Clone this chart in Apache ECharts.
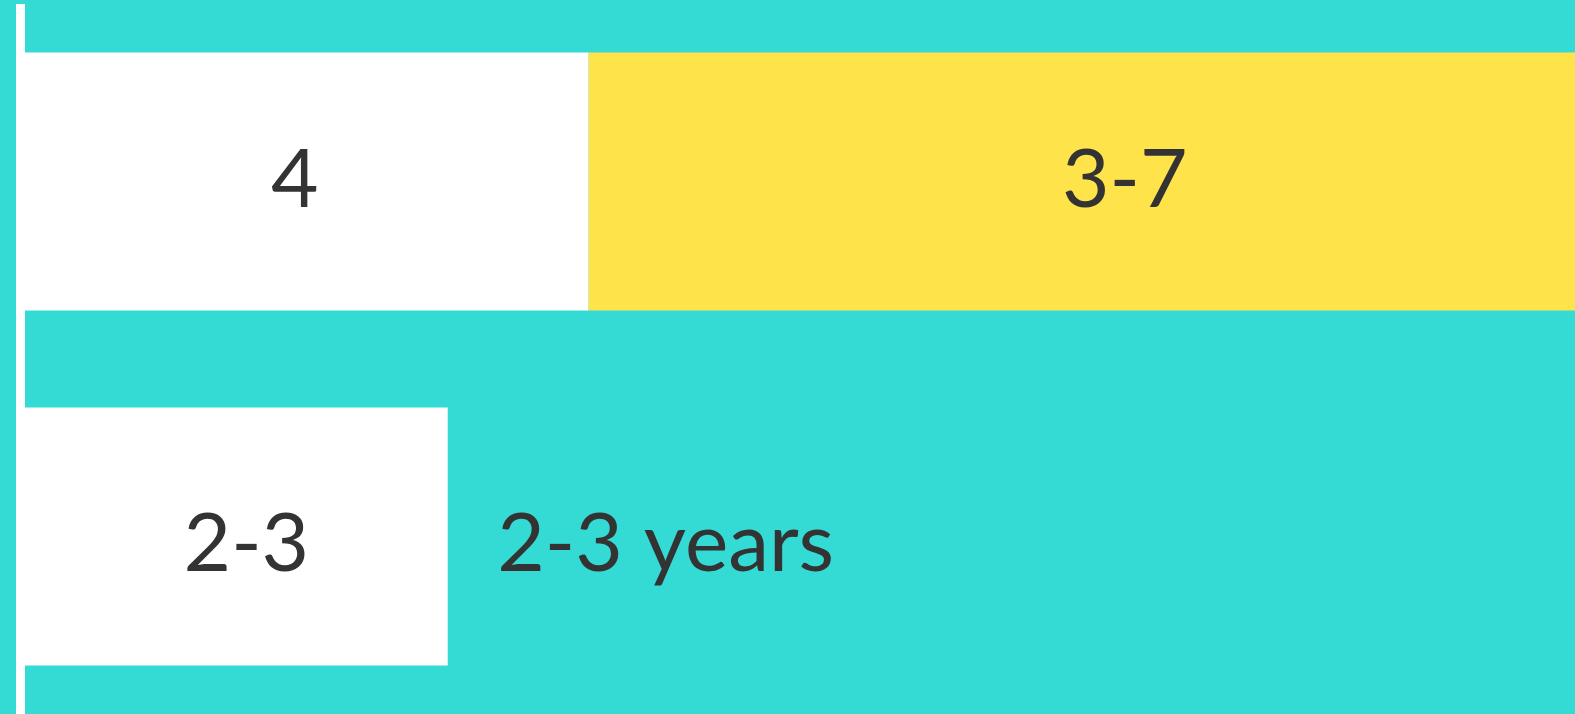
<!DOCTYPE html>
<html>
<head>
<meta charset="utf-8">
<script src="https://cdn.jsdelivr.net/npm/echarts@6/dist/echarts.min.js"></script>
<style>
  html, body { margin: 0; padding: 0; background: #34dad4; }
  #chart { width: 1575px; height: 714px; }
</style>
</head>
<body>
<div id="chart"></div>
<script>
  // rows, top to bottom
  const categories = ['Row A', 'Row B']
  const whiteValues = [4, 3]
  const whiteLabels = ['4', '2-3']
  const yellowValues = [7, null]
  const yellowLabels = ['3-7', '']
  const noteText = '2-3 years'
  const xMax = 11

  const textStyle = {
    color: '#333333',
    fontFamily: 'Lato',
    fontSize: 82,
  }

  // label nudges (offset from bar centre)
  const whiteOffsets = [[-12, -1], [10, 8]]
  const yellowOffsets = [[43, -1], [0, 0]]

  const chart = echarts.init(document.getElementById('chart'))

  chart.setOption({
    backgroundColor: '#34dad4',
    animation: false,
    grid: { left: 25, right: 0, top: 4, height: 710 },
    xAxis: { type: 'value', min: 0, max: xMax, show: false },
    yAxis: {
      type: 'category',
      inverse: true,
      data: categories,
      offset: 4.5,
      axisLine: {
        show: true,
        onZero: false,
        lineStyle: { color: '#ffffff', width: 9, cap: 'butt' },
      },
      axisTick: { show: false },
      axisLabel: { show: false },
      splitLine: { show: false },
    },
    series: [
      {
        name: 'white',
        type: 'bar',
        stack: 'total',
        barWidth: 258,
        itemStyle: { color: '#ffffff' },
        data: whiteValues.map((v, i) => ({
          value: v,
          label: {
            show: true,
            position: 'inside',
            formatter: whiteLabels[i],
            offset: whiteOffsets[i],
            ...textStyle,
          },
        })),
        markPoint: {
          symbol: 'circle',
          symbolSize: 1,
          itemStyle: { color: 'rgba(0,0,0,0)' },
          data: [
            {
              coord: [whiteValues[1], categories[1]],
              label: {
                show: true,
                position: 'right',
                distance: 49,
                formatter: noteText,
                offset: [0, 8],
                ...textStyle,
              },
            },
          ],
        },
      },
      {
        name: 'yellow',
        type: 'bar',
        stack: 'total',
        barWidth: 258,
        itemStyle: { color: '#ffe34a' },
        data: yellowValues.map((v, i) => ({
          value: v,
          label: {
            show: !!yellowLabels[i],
            position: 'inside',
            formatter: yellowLabels[i],
            offset: yellowOffsets[i],
            ...textStyle,
          },
        })),
      },
    ],
  })
</script>
</body>
</html>
